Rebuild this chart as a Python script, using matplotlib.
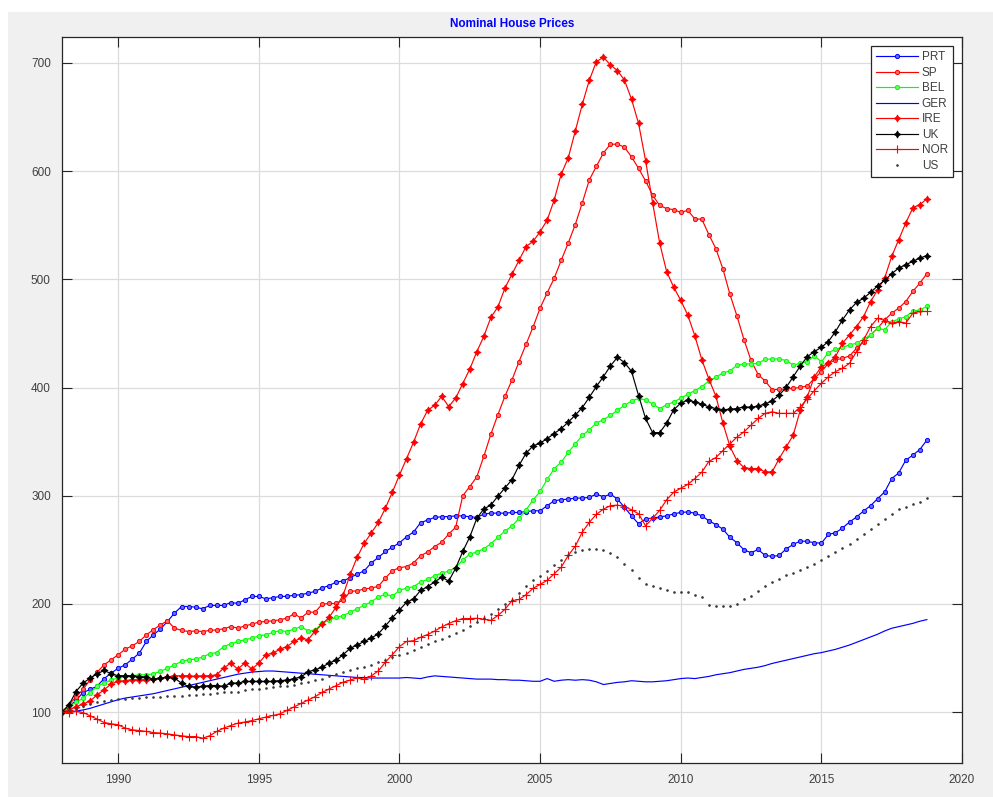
import numpy as np
import matplotlib
matplotlib.use("Agg")
import matplotlib.pyplot as plt
from matplotlib.patches import Rectangle

# Quarterly index levels, 1988Q1 = 100
quarters = np.arange(1988, 2019, 0.25)

PRT = [100, 105, 111, 118,
       121, 124, 131, 136,
       140.6, 143.7, 149, 154.5,
       165.3, 171.5, 176.7, 183.8,
       191.5, 197.6, 197.6, 197,
       195.5, 198.6, 198.6, 198.6,
       201.3, 200.5, 203.8, 206.9,
       206.9, 204.7, 205.7, 206.9,
       207, 208, 208.5, 210,
       211.6, 214.8, 217, 220.2,
       221.2, 224.4, 227.5, 230.7,
       238, 243, 248.5, 252.5,
       256.5, 262, 266.5, 275,
       277.5, 280, 280.5, 280.8,
       281.3, 281.4, 280.5, 280,
       283, 283.9, 283.9, 283.9,
       284.5, 284.5, 285.4, 286.1,
       286.1, 290.7, 295.4, 296.3,
       296.9, 297.8, 297.8, 298.5,
       301.5, 299, 301.5, 296.9,
       289.2, 281.4, 274, 278.6,
       279.3, 280.4, 281.4, 283.2,
       284.6, 285, 283.9, 281.4,
       276.8, 273.3, 269, 261.5,
       256.5, 250, 247.3, 250.3,
       244.8, 243.9, 244.8, 250.9,
       255, 258.1, 257.8, 256.5,
       256.2, 264.2, 265.8, 270.1,
       275.7, 280.3, 285.9, 290.8,
       297.3, 303.5, 315.8, 321.1,
       332.8, 337.5, 342.7, 351.4]

SP = [100, 107, 114, 121,
      130, 137, 143.7, 148.4,
      153, 158.2, 161.3, 165.3,
      171.5, 176.1, 180.7, 184.4,
      177.6, 175.5, 174.5, 175,
      174.5, 175.5, 176, 177,
      179.1, 177.6, 179.7, 181.3,
      183.2, 183.8, 184.4, 185.3,
      186.9, 190.9, 187, 192.4,
      192.4, 199.8, 200.4, 200.4,
      203.6, 211.5, 212.2, 213.8,
      214.7, 216.3, 224, 230.7,
      233.5, 234.5, 238, 244.5,
      248, 253, 257, 264.5,
      271, 300, 308.5, 317.5,
      336.5, 357, 375, 392,
      407, 424, 440, 456,
      473.4, 487.5, 501, 517.6,
      533.6, 550.6, 570.8, 592,
      604.4, 616.8, 624.9, 624.9,
      622.1, 613.2, 602.6, 590.9,
      577.8, 568.3, 565.4, 564.4,
      561.9, 563.7, 555.9, 555.5,
      541.4, 528.3, 509.5, 486,
      466, 444, 425, 412,
      406, 398, 398.3, 398.6,
      399.2, 400.2, 401.4, 408.5,
      414.7, 422.4, 425.5, 427,
      429.2, 436.3, 442.5, 448.6,
      454.8, 462.5, 468.7, 473.4,
      479.5, 488.8, 496.5, 505.2]

BEL = [100, 105.8, 108.9, 112.9,
       118.1, 123.7, 126.8, 129.9,
       131.4, 133.6, 133.6, 134.5,
       134.5, 135.4, 137.6, 140.7,
       143.7, 146.8, 148.4, 149,
       150.8, 153.9, 155.1, 160.6,
       163.1, 165.3, 166.8, 168.4,
       170.5, 171.5, 173.6, 175.4,
       174.5, 176.7, 179, 175,
       176, 182, 185, 187.6,
       189.2, 192.4, 195.6, 198.8,
       202, 206.5, 209, 207,
       212.8, 214.5, 216, 220.3,
       222.6, 226, 228.5, 230.2,
       233.6, 240.7, 245.9, 248,
       251, 255.6, 261.6, 267.4,
       272, 279, 287, 296,
       304, 315, 325, 331,
       340, 348, 355.7, 361,
       367.2, 370.3, 374.3, 378.9,
       383.6, 387.6, 390, 388.4,
       384.9, 380.6, 384.1, 386.6,
       390.2, 393.7, 397.2, 400.8,
       406.1, 409.6, 413.5, 415.5,
       420.5, 421.8, 421.8, 422.4,
       426.1, 426.4, 426.4, 424.9,
       420.8, 422.4, 423.9, 429.2,
       423.9, 432.3, 435.4, 437.2,
       439.4, 440.9, 444.6, 448.6,
       454.8, 453.3, 461, 463.2,
       465.6, 470.3, 471.8, 474.9]

GER = [100, 100.5, 101, 102,
       103.5, 105.5, 107.5, 109.5,
       111.5, 113, 114, 115,
       116, 117, 118.5, 120,
       121.5, 123, 124.5, 126,
       127.5, 129, 130.5, 132,
       133.5, 135, 136, 137,
       137.5, 138, 138, 137.5,
       137, 136.5, 136, 135.5,
       135, 134.5, 134, 133.5,
       133, 132.5, 132, 132,
       131.5, 131.5, 131.5, 131.5,
       131.5, 132, 131.5, 131,
       132.5, 133.5, 133, 132.5,
       132, 131.5, 131, 130.5,
       130.5, 130.5, 130, 130,
       129.5, 129.5, 129, 128.5,
       128.5, 131, 128.5, 129.5,
       130, 129.5, 130, 129.5,
       128, 125.5, 126.5, 127.5,
       128, 129, 128.5, 128,
       128, 128.5, 129, 130,
       131, 131.5, 131, 132,
       133, 134.5, 135.5, 136.5,
       138, 139.5, 140.5, 141.5,
       143, 145, 146.5, 148,
       149.5, 151, 152.5, 154,
       155, 156.5, 158, 160,
       162, 164.5, 167, 169.5,
       172, 175, 177.5, 179,
       180.5, 182, 184, 185.5]

IRE = [100, 102, 104.9, 107.5,
       110.2, 116, 120.6, 126.2,
       128.3, 129.2, 129.9, 129.9,
       130, 130.5, 131.5, 132.5,
       133.6, 133.6, 133.6, 133,
       133.6, 133.6, 134.5, 140.7,
       145.3, 139.8, 145.3, 139.8,
       145.3, 153, 154.5, 158.2,
       160.6, 165.3, 168.5, 166.9,
       174.9, 181.3, 187.6, 197.2,
       208.4, 227.5, 243.4, 256.2,
       265.7, 275.3, 288.6, 303.5,
       319.2, 334.2, 349.4, 366.3,
       378.9, 383.6, 391.8, 382.4,
       390.3, 403.7, 417.1, 433.1,
       447.4, 464.9, 474.5, 492,
       504.8, 517.5, 530.3, 535.1,
       544, 554.8, 573.2, 597.3,
       612.2, 637, 661.8, 684.1,
       701.1, 705.3, 698.2, 692.9,
       684.1, 666.4, 644.1, 609.7,
       570.8, 533.6, 507, 492.8,
       480.5, 467, 447.9, 425.6,
       407.9, 391.9, 367, 345.5,
       332.3, 326, 325.1, 325.1,
       322, 322, 334.4, 345.2,
       356, 379.2, 391.5, 410,
       419.3, 422.4, 428.6, 440.9,
       448.6, 456.4, 465.6, 479.5,
       490.3, 501.2, 521.2, 536.7,
       552.1, 566, 569.1, 574.4]

UK = [100, 106.7, 119, 126.8,
      131.4, 135.4, 138.5, 135.4,
      133.6, 133.6, 133.6, 132.9,
      132.4, 130.5, 131.4, 132.4,
      131.4, 126.8, 123.7, 123.1,
      123.7, 124.6, 124.6, 123.7,
      126.8, 126.8, 128.3, 128.3,
      128.3, 128.3, 128.3, 129.2,
      129.5, 131, 132.5, 137.3,
      139.2, 141.4, 145.6, 147.8,
      153.2, 159, 162.2, 165.3,
      168.5, 172.4, 179.7, 187.3,
      194.4, 201.5, 204.6, 212.5,
      216, 220.3, 224.7, 221.1,
      233.1, 248.5, 261.9, 279.2,
      287.8, 291.4, 299.6, 307.2,
      314.9, 328, 339.3, 346,
      348.6, 352.8, 357.5, 362,
      368, 374.5, 381.5, 391,
      401, 410, 420, 428,
      423, 415, 392.6, 371.4,
      358.3, 358.3, 367.1, 379.5,
      385.5, 388.4, 386.6, 384.8,
      382, 380.6, 379.6, 379.8,
      380.6, 382.2, 381.6, 382.9,
      384.7, 387.8, 393, 400.2,
      410, 419.9, 428.6, 433.2,
      437.2, 442.5, 451.7, 462.5,
      471.8, 478.6, 482.6, 487.9,
      494, 499, 505.2, 510.4,
      513.5, 516.6, 519.7, 521.9]

NOR = [100, 99.6, 100.6, 99.6,
       96.6, 93.5, 90.4, 89.2,
       88.3, 85.2, 83.6, 83,
       82.1, 81.1, 80.6, 79.9,
       79, 78.1, 77.4, 77.4,
       75.9, 78.1, 82.1, 85.2,
       87.6, 89.8, 90.8, 92.2,
       93.8, 95.4, 96.9, 98.4,
       101.6, 104.8, 108, 111.2,
       114.3, 118.2, 121.4, 124.5,
       127.7, 129.6, 131.9, 130.3,
       133.5, 138.2, 146.2, 153.2,
       160.6, 165.3, 166, 169.2,
       171.7, 174.9, 178.7, 181.9,
       184.5, 186.5, 186.5, 186.7,
       185.8, 184.8, 189.3, 195,
       203, 204.1, 208.5, 214.4,
       218, 221.8, 227.8, 234,
       244.8, 253.4, 266.4, 275.4,
       282.8, 287.6, 290.8, 291.3,
       290, 287, 283.3, 272.2,
       279.3, 286.4, 296.3, 303.3,
       306.9, 310.5, 315.8, 321.8,
       331.7, 335.3, 341.8, 348,
       354.2, 359.1, 365.3, 371.4,
       376.1, 377.6, 376.1, 376.1,
       376.1, 382.2, 389.6, 397.1,
       403.9, 410, 414.7, 417.8,
       422.4, 433.2, 444, 456.4,
       464.1, 461.9, 459.5, 461,
       459.5, 468.7, 470.3, 470.3]

US = [100, 102, 104, 106,
      107.5, 109, 110, 111,
      111.9, 112.3, 112.9, 113.3,
      113.8, 114.2, 114.4, 114.7,
      115, 115.3, 115.7, 116,
      116.5, 117, 117.6, 118.2,
      118.5, 119, 120, 121,
      121.5, 122.2, 123, 123.7,
      124.3, 125.3, 126.8, 128,
      129.5, 131, 133, 135,
      137, 139, 140.5, 142,
      144, 146, 148.5, 150.5,
      152.5, 155, 157.5, 160,
      163, 165.5, 168, 170.5,
      173, 176, 179.5, 183,
      187, 191, 195.5, 200,
      204, 210, 217, 222,
      226, 230, 236, 241,
      245, 248, 249.5, 250.5,
      251, 250, 247, 243,
      237, 231, 224, 218.5,
      216.6, 214.9, 213.1, 211.3,
      211.3, 210.6, 207.8, 206,
      199, 198, 198, 198.5,
      200, 204.6, 207.7, 212.4,
      217, 220.1, 223.2, 226.3,
      228.4, 231.5, 234, 237.1,
      240.2, 243.9, 247.9, 251.9,
      255.6, 260.2, 264.9, 269.5,
      274.1, 278.8, 283.4, 288,
      290, 292.1, 294.2, 298.2]

x_ticks = [1990, 1995, 2000, 2005, 2010, 2015, 2020]
y_ticks = [100, 200, 300, 400, 500, 600, 700]

plt.rcParams['font.family'] = ['Liberation Sans Narrow', 'Liberation Sans', 'DejaVu Sans']

fig = plt.figure(figsize=(9.93, 7.97), dpi=100, facecolor='#f0f0f0')
ax = fig.add_axes([0.0624, 0.0427, 0.9064, 0.9109])
ax.set_facecolor('white')

# white margins around the figure window
fig.patches.append(Rectangle((0, 1 - 12 / 797), 1, 12 / 797, transform=fig.transFigure,
                             facecolor='white', edgecolor='none', zorder=-5))
fig.patches.append(Rectangle((0, 0), 8 / 993, 1, transform=fig.transFigure,
                             facecolor='white', edgecolor='none', zorder=-5))

star4 = (4, 1, 0)
lw = 0.85
dot_style = dict(marker='o', ms=3.0, mew=0.7)
ax.plot(quarters, PRT, color='#0000ff', lw=lw, mfc='#6a6aff', **dot_style, label='PRT')
ax.plot(quarters, SP, color='#ff0000', lw=lw, mfc='#ff6a6a', **dot_style, label='SP')
ax.plot(quarters, BEL, color='#00ff00', lw=lw, mfc='#6aff6a', **dot_style, label='BEL')
ax.plot(quarters, GER, color='#0000ff', lw=lw, label='GER')
ax.plot(quarters, IRE, color='#ff0000', lw=lw, marker=star4, ms=5.2, mew=0.5, label='IRE')
ax.plot(quarters, UK, color='#000000', lw=lw, marker=star4, ms=5.2, mew=0.5, label='UK')
ax.plot(quarters, NOR, color='#ff0000', lw=lw, marker='+', ms=6.0, mew=0.8, label='NOR')
ax.plot(quarters, US, color='#3a3a3a', ls='none', marker='.', ms=1.8, label='US')

ax.set_xlim(1988, 2020)
ax.set_ylim(53, 724)
ax.set_xticks(x_ticks)
ax.set_yticks(y_ticks)
ax.grid(True, color='#dcdcdc', lw=0.9)
ax.set_axisbelow(True)
ax.tick_params(direction='in', length=7, width=0.8, top=True, right=True,
               labelsize=8.5, labelcolor='#404040', color='#262626', pad=8)
for s in ax.spines.values():
    s.set_color('#262626')
    s.set_linewidth(0.9)

ax.set_title('Nominal House Prices', color='#0000ff', fontsize=8.5, fontweight='bold', pad=7)

leg = ax.legend(loc='upper right', fontsize=8.5, frameon=True, fancybox=False,
                edgecolor='#262626', framealpha=1, borderaxespad=0.8,
                handlelength=3.6, handletextpad=0.3, labelspacing=0.3, borderpad=0.4)
leg.get_frame().set_linewidth(0.9)
for t in leg.get_texts():
    t.set_color('#404040')

fig.savefig('out.png', dpi=100, facecolor=fig.get_facecolor())
